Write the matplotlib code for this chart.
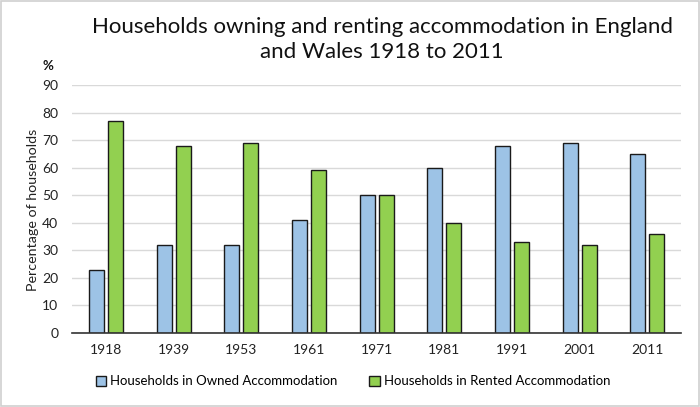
import matplotlib
matplotlib.use("Agg")
import matplotlib.pyplot as plt
import numpy as np
from matplotlib.patches import Rectangle

# data
years = ['1918', '1939', '1953', '1961', '1971', '1981', '1991', '2001', '2011']
owned = [23, 32, 32, 41, 50, 60, 68, 69, 65]
rented = [77, 68, 69, 59, 50, 40, 33, 32, 36]

plt.rcParams['font.family'] = ['Lato', 'DejaVu Sans']

fig = plt.figure(figsize=(7, 4.07), dpi=100)
ax = fig.add_axes([0.103, 0.182, 0.870, 0.609])

x = np.arange(len(years))
w = 0.22
off = 0.14
ax.bar(x - off, owned, w, color='#9DC3E6', edgecolor='#1a1a1a', linewidth=1,
       label='Households in Owned Accommodation', zorder=3)
ax.bar(x + off, rented, w, color='#92D050', edgecolor='#1a1a1a', linewidth=1,
       label='Households in Rented Accommodation', zorder=3)

ax.set_xlim(-0.5, len(years) - 0.5)
ax.set_ylim(0, 90)
ax.set_yticks(range(0, 91, 10))
ax.set_xticks(x)
ax.set_xticklabels(years)
ax.tick_params(axis='both', length=0, labelsize=10, colors='#222222')
ax.tick_params(axis='x', pad=8)
ax.tick_params(axis='y', pad=10)
ax.grid(axis='y', color='#d9d9d9', linewidth=1, zorder=0)
for s in ['top', 'right', 'left']:
    ax.spines[s].set_visible(False)
ax.spines['bottom'].set_color('#333333')
ax.spines['bottom'].set_linewidth(1.2)
ax.spines['bottom'].set_zorder(4)

ax.set_ylabel('Percentage of households', fontsize=10.3, color='#222222')
ax.yaxis.set_label_coords(-0.055, 0.496)

fig.text(0.546, 0.934, 'Households owning and renting accommodation in England',
         ha='center', va='center', fontsize=16, color='#111111')
fig.text(0.546, 0.872, 'and Wales 1918 to 2011',
         ha='center', va='center', fontsize=16, color='#111111')
fig.text(0.069, 0.838, '%', ha='center', va='center', fontsize=9.5,
         fontweight='bold', color='#111111')

fig.legend(loc='center', bbox_to_anchor=(0.504, 0.063), ncol=2, frameon=False,
           fontsize=9.5, handlelength=0.8, handleheight=0.8, handletextpad=0.3,
           columnspacing=2.4)

# light frame round the whole picture
fig.patches.append(Rectangle((0.002, 0.003), 0.996, 0.994, transform=fig.transFigure,
                             fill=False, edgecolor='#d0d0d0', linewidth=1.2))

plt.savefig('out.png', dpi=100)
plt.close()
